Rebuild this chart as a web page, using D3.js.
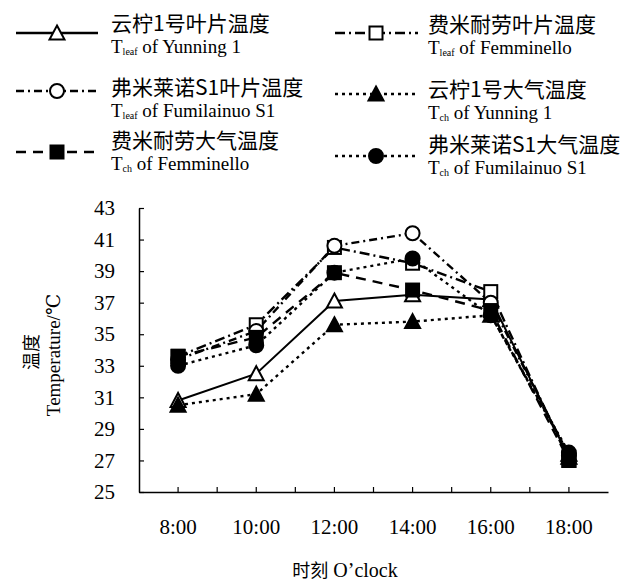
<!DOCTYPE html>
<html><head><meta charset="utf-8">
<script src="https://cdn.jsdelivr.net/npm/d3@7"></script>
<style>body{margin:0;background:#fff}</style>
</head><body>
<svg id="c" width="625" height="581"></svg>
<script>
const times = ["8:00","10:00","12:00","14:00","16:00","18:00"];
const yTicks = [25,27,29,31,33,35,37,39,41,43];
const yunningLeaf    = [30.8, 32.5, 37.1, 37.5, 37.2, 27.2];
const femminelloLeaf = [33.6, 35.6, 40.5, 39.5, 37.7, 27.0];
const fumilainuoLeaf = [33.4, 35.2, 40.6, 41.4, 37.0, 27.3];
const yunningAir     = [30.5, 31.2, 35.6, 35.8, 36.2, 27.4];
const femminelloAir  = [33.6, 34.8, 38.9, 37.8, 36.5, 27.0];
const fumilainuoAir  = [33.0, 34.3, 38.9, 39.8, 36.2, 27.5];

const cn = "'Noto Sans CJK SC', sans-serif";
const en = "'Liberation Serif', 'DejaVu Serif', serif";

const series = [
  {cnName:"云柠1号叶片温度", T:"T", sub:"leaf", rest:" of Yunning 1", values:yunningLeaf, marker:"triangle", fill:false, dash:null, col:0, row:0},
  {cnName:"费米耐劳叶片温度", T:"T", sub:"leaf", rest:" of Femminello", values:femminelloLeaf, marker:"square", fill:false, dash:"10,4,2,4", col:1, row:0},
  {cnName:"弗米莱诺S1叶片温度", T:"T", sub:"leaf", rest:" of Fumilainuo S1", values:fumilainuoLeaf, marker:"circle", fill:false, dash:"8,4,2,4", col:0, row:1},
  {cnName:"云柠1号大气温度", T:"T", sub:"ch", rest:" of Yunning 1", values:yunningAir, marker:"triangle", fill:true, dash:"3,4", col:1, row:1},
  {cnName:"费米耐劳大气温度", T:"T", sub:"ch", rest:" of Femminello", values:femminelloAir, marker:"square", fill:true, dash:"10,7", col:0, row:2},
  {cnName:"弗米莱诺S1大气温度", T:"T", sub:"ch", rest:" of Fumilainuo S1", values:fumilainuoAir, marker:"circle", fill:true, dash:"3,4", col:1, row:2}
];

const svg = d3.select("#c");
const x = d3.scaleBand().domain(times).range([139, 608]);
const cx = d => x(d) + x.bandwidth()/2;
const y = d3.scaleLinear().domain([25,43]).range([492,208]);

// axes
const gx = svg.append("g").attr("transform","translate(0,492)")
  .call(d3.axisBottom(x).tickSizeInner(-5).tickSizeOuter(0).tickPadding(27));
gx.selectAll("text").attr("font-family",en).attr("font-size",21).attr("fill","#000");
gx.select(".domain").attr("stroke","#000").attr("stroke-width",1.5);
gx.selectAll(".tick line").attr("stroke","#000").attr("stroke-width",1.2);
gx.selectAll("line.bt").data(times.slice(1)).enter().append("line").attr("class","bt")
  .attr("x1",d=>x(d)).attr("x2",d=>x(d)).attr("y1",0).attr("y2",-5)
  .attr("stroke","#000").attr("stroke-width",1.2);

const gy = svg.append("g").attr("transform","translate(139,0)")
  .call(d3.axisLeft(y).tickValues(yTicks).tickFormat(d3.format("d")).tickSizeInner(-5).tickSizeOuter(0).tickPadding(24));
gy.selectAll("text").attr("font-family",en).attr("font-size",21).attr("fill","#000");
gy.select(".domain").attr("stroke","#000").attr("stroke-width",1.5);
gy.selectAll(".tick line").attr("stroke","#000").attr("stroke-width",1.2);

// axis titles
svg.append("text").attr("transform","translate(30,352) rotate(-90)").attr("text-anchor","middle")
  .attr("dominant-baseline","central").attr("font-family",cn).attr("font-size",18).text("温度");
svg.append("text").attr("transform","translate(53,355) rotate(-90)").attr("text-anchor","middle")
  .attr("dominant-baseline","central").attr("font-family",en).attr("font-size",19).text("Temperature/℃");
const xt = svg.append("text").attr("x",345).attr("y",577).attr("text-anchor","middle");
xt.append("tspan").attr("font-family",cn).attr("font-size",18).text("时刻");
xt.append("tspan").attr("font-family",en).attr("font-size",20).text(" O’clock");

function drawMarker(g, type, filled, px, py){
  const st = el => el.attr("fill", filled ? "#000" : "#fff").attr("stroke","#000").attr("stroke-width",2);
  if(type==="square") st(g.append("rect").attr("x",px-6.5).attr("y",py-6.5).attr("width",13).attr("height",13));
  else if(type==="circle") st(g.append("circle").attr("cx",px).attr("cy",py).attr("r",7));
  else st(g.append("path").attr("d",`M${px},${py-7.5}L${px+7.5},${py+6.5}L${px-7.5},${py+6.5}Z`));
}

// lines
const line = d3.line().x((d,i)=>cx(times[i])).y(d=>y(d));
series.forEach(s=>{
  svg.append("path").datum(s.values).attr("d",line).attr("fill","none")
    .attr("stroke","#000").attr("stroke-width", s.dash ? 2.4 : 2)
    .attr("stroke-dasharray", s.dash);
});
series.forEach(s=>{
  const g = svg.append("g");
  s.values.forEach((v,i)=>drawMarker(g, s.marker, s.fill, cx(times[i]), y(v)));
});

// legend
const colX = [{x0:16,x1:98,m:57,t:111},{x0:335,x1:418,m:376,t:428}];
const rowY = [[{l:33,c:22,e:47},{l:91,c:86,e:111},{l:152,c:139,e:164}],
              [{l:33,c:23,e:48},{l:94,c:88,e:113},{l:156,c:143,e:168}]];
series.forEach(s=>{
  const c = colX[s.col], r = rowY[s.col][s.row];
  const g = svg.append("g");
  g.append("line").attr("x1",c.x0).attr("x2",c.x1).attr("y1",r.l).attr("y2",r.l)
    .attr("stroke","#000").attr("stroke-width",2.4).attr("stroke-dasharray",s.dash);
  drawMarker(g, s.marker, s.fill, c.m, r.l);
  g.append("text").attr("x",c.t).attr("y",r.c).attr("dominant-baseline","central")
    .attr("font-family",cn).attr("font-size",21).text(s.cnName);
  const t = g.append("text").attr("x",c.t).attr("y",r.e+6).attr("font-family",en).attr("font-size",19);
  t.append("tspan").text(s.T);
  t.append("tspan").attr("font-size",10).attr("dy",2).text(s.sub);
  t.append("tspan").attr("dy",-2).text(s.rest);
});
</script>
</body></html>
